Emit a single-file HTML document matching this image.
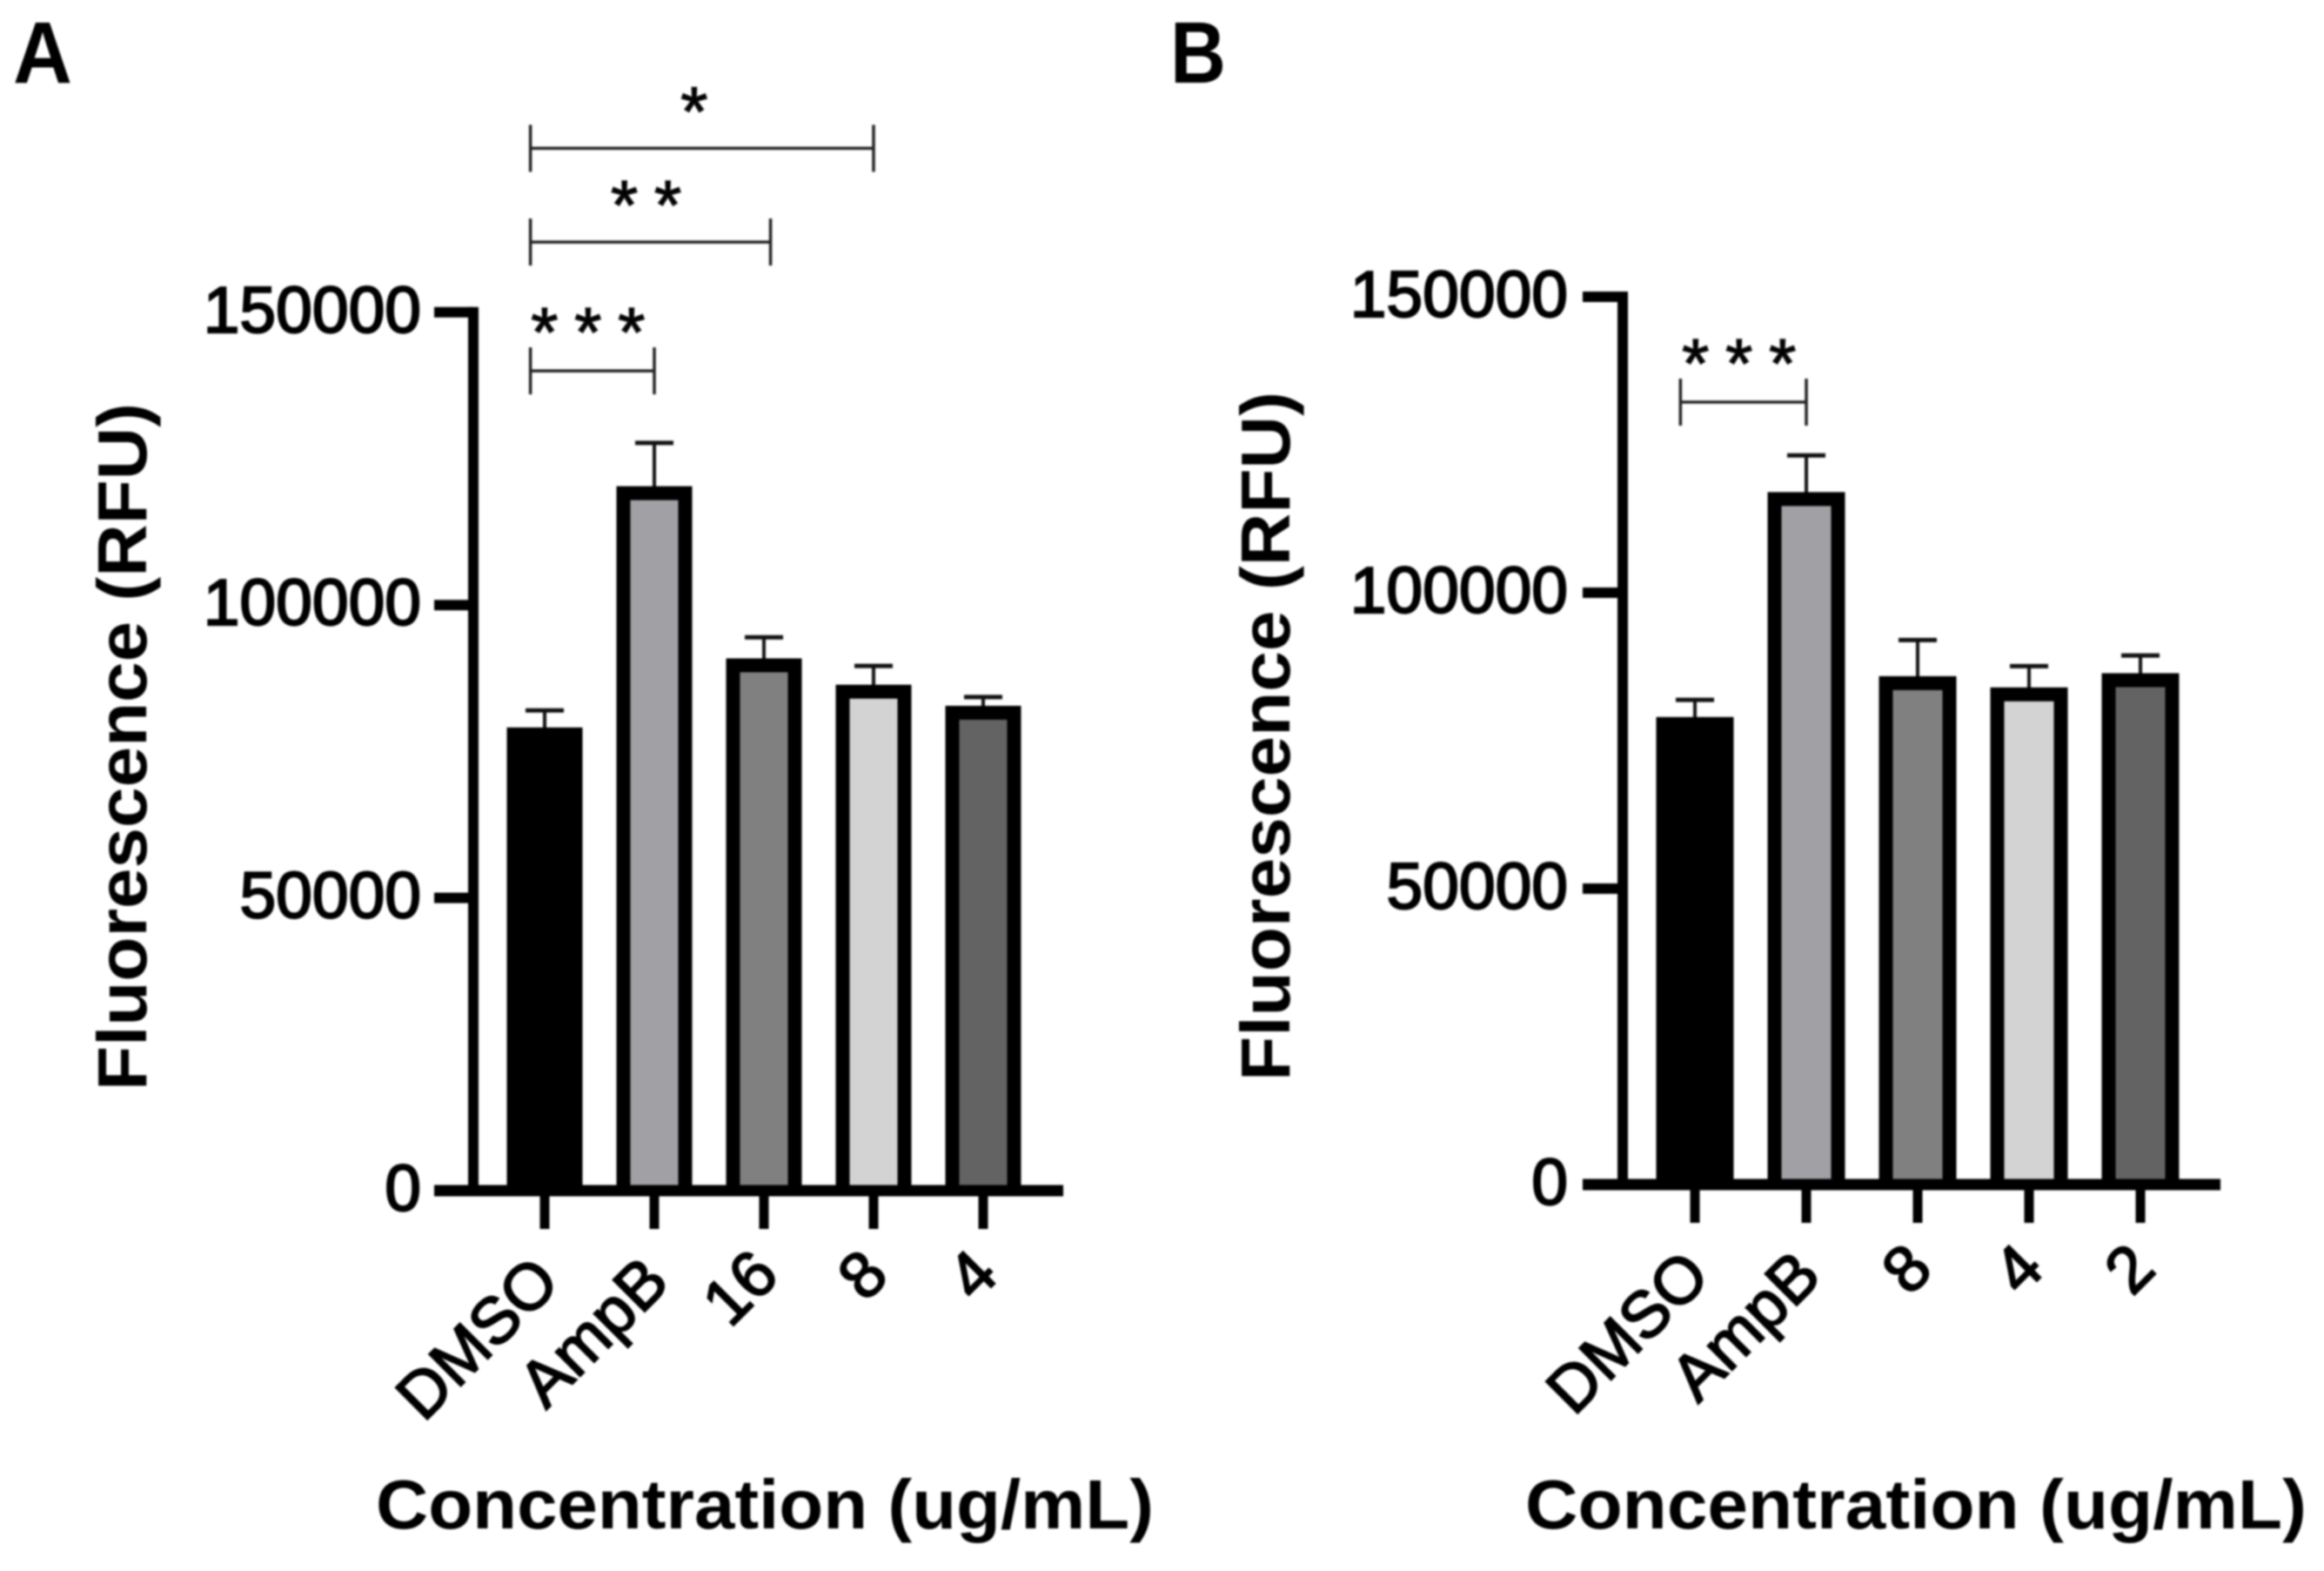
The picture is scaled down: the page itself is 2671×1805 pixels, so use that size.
<!DOCTYPE html>
<html lang="en">
<head>
<meta charset="utf-8">
<title>Fluorescence by concentration</title>
<style>
  html, body { margin: 0; padding: 0; background: #fff; }
  body { width: 2671px; height: 1805px; overflow: hidden; }
  svg { display: block; filter: blur(1.1px); }
  text { font-family: "Liberation Sans", Arial, sans-serif; fill: #000; }
</style>
</head>
<body>
<svg id="figure" xmlns="http://www.w3.org/2000/svg" width="2671" height="1805" viewBox="0 0 2671 1805">
  <rect x="0" y="0" width="2671" height="1805" fill="#ffffff"/>
  <text x="15" y="95" font-size="100" font-weight="700" textLength="68" lengthAdjust="spacingAndGlyphs">A</text>
  <text x="1345" y="95" font-size="100" font-weight="700" textLength="64" lengthAdjust="spacingAndGlyphs">B</text>
</svg>
<script>
// Shared axis values
const yTickValues = [0, 50000, 100000, 150000];
const yTickLabels = ['0', '50000', '100000', '150000'];
const barColors = ['#000000', '#a0a0a5', '#808080', '#d3d3d3', '#636363'];

// Panel A data
const categoriesA = ['DMSO', 'AmpB', '16', '8', '4'];
const valuesA = [79100, 120300, 90900, 86400, 82800];
const errorsA = [2900, 7400, 3600, 3200, 1500];
const bracketStartA = [-0.13, -0.13, -0.13];
const bracketEndA = [1, 2.06, 3];
const bracketLevelA = [140000, 162000, 178000];
const bracketStarsA = [3, 2, 1];

// Panel B data
const categoriesB = ['DMSO', 'AmpB', '8', '4', '2'];
const valuesB = [79000, 117000, 85900, 84000, 86400];
const errorsB = [2900, 6200, 6100, 3600, 3000];
const bracketStartB = [-0.13];
const bracketEndB = [1];
const bracketLevelB = [132200];
const bracketStarsB = [3];

const svg = document.getElementById('figure');
const NS = 'http://www.w3.org/2000/svg';

function make(tag, attrs, parent) {
  const el = document.createElementNS(NS, tag);
  for (const k in attrs) el.setAttribute(k, attrs[k]);
  (parent || svg).appendChild(el);
  return el;
}

function drawPanel(id, cfg, categories, values, errors, bStart, bEnd, bLevel, bStars) {
  const y = v => cfg.y0 - v * cfg.pxPerUnit;
  const x = i => cfg.x0 + i * cfg.step;

  const group = make('g', {});
  
  

  // error bars sit behind the bars
  categories.forEach((c, i) => {
    const err = make('g', { stroke: '#111', fill: 'none' }, group);
    
    
    make('line', { x1: x(i), x2: x(i), y1: y(values[i]) + 4, y2: y(values[i] + errors[i]), 'stroke-width': 4 }, err);
    make('line', { x1: x(i) - 22, x2: x(i) + 22, y1: y(values[i] + errors[i]), y2: y(values[i] + errors[i]), 'stroke-width': 5 }, err);
  });

  // bars: black outline on the top and sides, fill running down to the axis
  categories.forEach((c, i) => {
    const sw = cfg.barStroke;
    const top = y(values[i]);
    const barGroup = make('g', {}, group);
    
    
    make('rect', {
      x: x(i) - cfg.barWidth / 2, y: top,
      width: cfg.barWidth, height: y(0) - top, fill: '#000'
    }, barGroup);
    make('rect', {
      x: x(i) - cfg.barWidth / 2 + sw, y: top + sw,
      width: cfg.barWidth - 2 * sw, height: Math.max(0, y(0) - top - sw), fill: barColors[i]
    }, barGroup);
  });

  // y axis
  const yAxis = make('line', { x1: cfg.axisX, x2: cfg.axisX, y1: y(150000) - 6, y2: y(0) + 6, stroke: '#000', 'stroke-width': 12 }, group);
  
  

  yTickValues.forEach((v, i) => {
    const tick = make('line', { x1: cfg.axisLeft, x2: cfg.axisX, y1: y(v), y2: y(v), stroke: '#000', 'stroke-width': 12 }, group);
    
    
    const label = make('text', {
      x: cfg.yLabelRight, y: y(v) + 23, 'font-size': 75, 'text-anchor': 'end',
      stroke: '#000', 'stroke-width': 2.2
    }, group);
    label.textContent = yTickLabels[i];
    
    
  });

  // x axis
  const xAxis = make('line', { x1: cfg.axisLeft, x2: cfg.axisRight, y1: y(0), y2: y(0), stroke: '#000', 'stroke-width': 13 }, group);
  
  

  categories.forEach((c, i) => {
    const tick = make('line', { x1: x(i), x2: x(i), y1: y(0), y2: y(0) + 44, stroke: '#000', 'stroke-width': 11 }, group);
    
    
    const lx = x(i) + 20;
    const ly = y(0) + (c.length < 3 ? 100 : 108);
    const label = make('text', {
      x: lx, y: ly, 'font-size': 75, 'text-anchor': 'end',
      transform: 'rotate(-45 ' + lx + ' ' + ly + ')', stroke: '#000', 'stroke-width': 2
    }, group);
    label.textContent = c;
    
    
  });

  // significance brackets
  bLevel.forEach((lvl, i) => {
    const xa = x(bStart[i]);
    const xb = x(bEnd[i]);
    const ly = y(lvl);
    const br = make('g', { stroke: '#222', fill: 'none', 'stroke-width': 3.5 }, group);
    
    
    make('line', { x1: xa, x2: xb, y1: ly, y2: ly }, br);
    make('line', { x1: xa, x2: xa, y1: ly - 27, y2: ly + 27 }, br);
    make('line', { x1: xb, x2: xb, y1: ly - 27, y2: ly + 27 }, br);
    const n = bStars[i];
    const mid = (xa + xb) / 2 - (n === 1 ? 9 : 5);
    for (let s = 0; s < n; s++) {
      const star = make('text', {
        x: mid + (s - (n - 1) / 2) * 50, y: ly + (n === 3 ? -17 : -15), 'font-size': 80, 'text-anchor': 'middle',
        fill: '#111', stroke: '#111', 'stroke-width': 1.5
      }, group);
      star.textContent = '*';
      
      
    }
  });

  // axis titles
  const yTitle = make('text', {
    x: 0, y: 0, 'font-size': 80, 'font-weight': 700, 'text-anchor': 'middle',
    textLength: cfg.yTitleLen, lengthAdjust: 'spacingAndGlyphs',
    transform: 'translate(' + cfg.yTitleX + ' ' + cfg.yTitleY + ') rotate(-90)'
  }, group);
  yTitle.textContent = 'Fluorescence (RFU)';
  
  

  const xTitle = make('text', {
    x: cfg.xTitleX, y: 1756, 'font-size': 80, 'font-weight': 700,
    textLength: cfg.xTitleLen, lengthAdjust: 'spacingAndGlyphs'
  }, group);
  xTitle.textContent = 'Concentration (ug/mL)';
  
  
}

drawPanel('panel-a', {
  y0: 1368, pxPerUnit: 0.006728, x0: 626, step: 126, barWidth: 87, barStroke: 16,
  axisX: 544, axisLeft: 499, axisRight: 1222, yLabelRight: 484,
  yTitleX: 168, yTitleY: 858, yTitleLen: 790, xTitleX: 432, xTitleLen: 894
}, categoriesA, valuesA, errorsA, bracketStartA, bracketEndA, bracketLevelA, bracketStarsA);

drawPanel('panel-b', {
  y0: 1361, pxPerUnit: 0.0068, x0: 1948, step: 128, barWidth: 89, barStroke: 16,
  axisX: 1865, axisLeft: 1819, axisRight: 2552, yLabelRight: 1802,
  yTitleX: 1482, yTitleY: 846, yTitleLen: 792, xTitleX: 1753, xTitleLen: 898
}, categoriesB, valuesB, errorsB, bracketStartB, bracketEndB, bracketLevelB, bracketStarsB);
</script>
</body>
</html>
